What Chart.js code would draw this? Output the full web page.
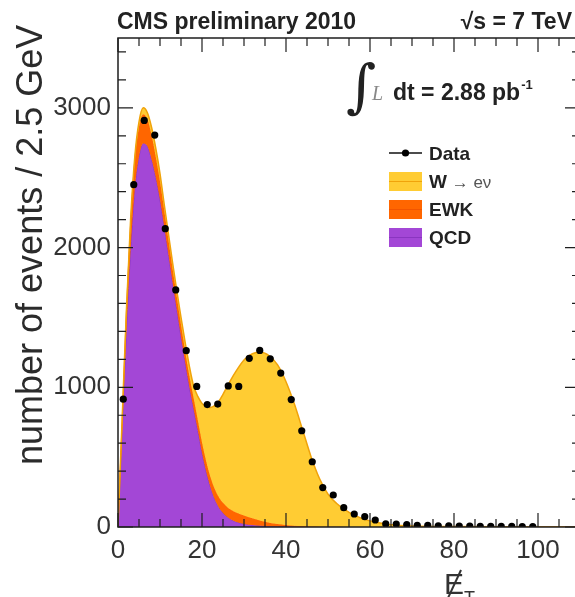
<!DOCTYPE html>
<html>
<head>
<meta charset="utf-8">
<script src="https://cdn.jsdelivr.net/npm/chart.js@4.4.0/dist/chart.umd.min.js"></script>
<style>
  html, body { margin: 0; padding: 0; overflow: hidden; background: #fff; }
  #plot { display: block; }
</style>
</head>
<body>
<canvas id="plot" width="600" height="597"></canvas>
<script>
// measured data: bin centres (GeV) and events per 2.5 GeV
const binCentres = [1.25, 3.75, 6.25, 8.75, 11.25, 13.75, 16.25, 18.75, 21.25, 23.75,
    26.25, 28.75, 31.25, 33.75, 36.25, 38.75, 41.25, 43.75, 46.25, 48.75,
    51.25, 53.75, 56.25, 58.75, 61.25, 63.75, 66.25, 68.75, 71.25, 73.75,
    76.25, 78.75, 81.25, 83.75, 86.25, 88.75, 91.25, 93.75, 96.25, 98.75];
const dataCounts = [915, 2450, 2910, 2805, 2135, 1697, 1262, 1006, 876, 880,
    1010, 1006, 1207, 1264, 1204, 1102, 912, 689, 467, 282,
    229, 138, 93, 74, 50, 22, 21, 18, 12, 11,
    9, 8, 7, 6, 5, 5, 4, 4, 3, 3];

// MC templates read along MET
const curveMet = [0, 1, 2, 3, 4, 5, 6, 7, 8, 9, 10, 11, 12, 13, 14, 15, 16, 17, 18, 19,
    20, 21, 22, 23, 24, 25, 26, 27, 28, 30, 32, 34, 36, 38, 40, 42, 44, 46, 48, 50,
    52, 54, 56, 58, 60, 62, 65, 70, 80, 90, 100, 110];
const qcdCurve = [0, 700, 1400, 1980, 2420, 2650, 2745, 2725, 2630, 2500, 2340, 2150, 1950, 1750, 1555, 1360, 1175, 1000, 845, 690,
    530, 395, 285, 200, 140, 100, 72, 52, 38, 22, 14, 9, 6, 4, 3, 2, 1.5, 1, 0.5, 0.3,
    0.2, 0.1, 0, 0, 0, 0, 0, 0, 0, 0, 0, 0];
const ewkCurve = [0, 70, 140, 190, 210, 215, 210, 195, 175, 150, 135, 120, 110, 100, 95, 90, 85, 82, 80, 78,
    77, 76, 75, 75, 74, 73, 72, 70, 67, 60, 48, 36, 25, 17, 11, 7, 5, 3, 2, 1,
    1, 0.5, 0, 0, 0, 0, 0, 0, 0, 0, 0, 0];
const wenuCurve = [0, 10, 10, 30, 20, 35, 45, 45, 55, 60, 55, 40, 40, 40, 40, 50, 60, 68, 85, 167,
    278, 391, 496, 593, 686, 777, 861, 938, 1005, 1113, 1178, 1205, 1194, 1139, 1026, 871, 684, 496, 343, 234,
    169, 124, 88, 62, 44, 30, 17, 8, 3, 1, 0.5, 0];

const xTickValues = [0, 20, 40, 60, 80, 100];
const yTickValues = [0, 1000, 2000, 3000];

const purple = '#a347d6';
const orange = '#ff6600';
const yellow = '#ffcc33';
const sans = '"Liberation Sans", Arial, Helvetica, sans-serif';

// stack the templates
const topQcd = qcdCurve.slice();
const topEwk = qcdCurve.map((v, i) => v + ewkCurve[i]);
const topW = topEwk.map((v, i) => v + wenuCurve[i]);
const toPts = ys => curveMet.map((x, i) => ({ x: x, y: ys[i] }));

function put(ctx, s, x, y, font, color, align) {
    ctx.font = font;
    ctx.fillStyle = color;
    ctx.textAlign = align || 'left';
    ctx.textBaseline = 'alphabetic';
    ctx.fillText(s, x, y);
    return ctx.measureText(s).width;
}

const decorations = {
    id: 'decorations',
    afterDraw(chart) {
        const { ctx, chartArea: a, scales: { x, y } } = chart;
        ctx.save();
        ctx.strokeStyle = '#1e1e1e';
        ctx.lineWidth = 1.5;
        ctx.strokeRect(a.left, a.top, a.right - a.left, a.bottom - a.top);

        ctx.beginPath();
        for (let v = 0; v <= x.max; v += 5) {
            const px = x.getPixelForValue(v);
            const len = v % 20 === 0 ? 14 : 8;
            ctx.moveTo(px, a.bottom); ctx.lineTo(px, a.bottom - len);
            ctx.moveTo(px, a.top); ctx.lineTo(px, a.top + len);
        }
        for (let v = 0; v <= y.max; v += 200) {
            const py = y.getPixelForValue(v);
            const len = v % 1000 === 0 ? 15 : 8;
            ctx.moveTo(a.left, py); ctx.lineTo(a.left + len, py);
            ctx.moveTo(a.right, py); ctx.lineTo(a.right - len, py);
        }
        ctx.lineWidth = 1.2;
        ctx.stroke();

        // header
        put(ctx, 'CMS preliminary 2010', 117, 29, 'bold 23px ' + sans, '#222');
        put(ctx, '\u221As = 7 TeV', 572, 29, 'bold 23px ' + sans, '#222', 'right');

        // luminosity
        put(ctx, '\u222B', 346, 106, '58px "DejaVu Serif", serif', '#222');
        put(ctx, 'L', 372, 100, 'italic 20px "Liberation Serif", serif', '#888');
        const w1 = put(ctx, 'dt = 2.88 pb', 393, 100, 'bold 23px ' + sans, '#222');
        put(ctx, '-1', 393 + w1 + 1, 89, 'bold 13px ' + sans, '#222');

        // legend
        const lx = 389, lw = 33, tx = 429;
        ctx.strokeStyle = '#111';
        ctx.lineWidth = 1.5;
        ctx.beginPath(); ctx.moveTo(lx, 153); ctx.lineTo(lx + lw, 153); ctx.stroke();
        ctx.fillStyle = '#000';
        ctx.beginPath(); ctx.arc(lx + lw / 2, 153, 3.6, 0, Math.PI * 2); ctx.fill();
        put(ctx, 'Data', tx, 160, 'bold 19px ' + sans, '#222');

        const boxes = [[yellow, '#f0a30a', 172], [orange, '#f25500', 200], [purple, '#8a35c0', 228]];
        boxes.forEach(b => {
            ctx.fillStyle = b[0];
            ctx.fillRect(lx, b[2], lw, 19);
            ctx.strokeStyle = b[1];
            ctx.lineWidth = 1;
            ctx.beginPath(); ctx.moveTo(lx, b[2] + 9.5); ctx.lineTo(lx + lw, b[2] + 9.5); ctx.stroke();
        });
        const ww = put(ctx, 'W', tx, 188, 'bold 19px ' + sans, '#222');
        put(ctx, ' \u2192 e\u03BD', tx + ww, 188, '17px ' + sans, '#555');
        put(ctx, 'EWK', tx, 216, 'bold 19px ' + sans, '#222');
        put(ctx, 'QCD', tx, 244, 'bold 19px ' + sans, '#222');

        // axis titles
        ctx.save();
        ctx.translate(42, 465);
        ctx.rotate(-Math.PI / 2);
        put(ctx, 'number of events / 2.5 GeV', 0, 0, '36px ' + sans, '#2b2b2b');
        ctx.restore();

        const ew = put(ctx, 'E', 444, 594, '30px ' + sans, '#333');
        ctx.strokeStyle = '#333';
        ctx.lineWidth = 2;
        ctx.beginPath(); ctx.moveTo(444 + ew * 0.85, 570); ctx.lineTo(444 + ew * 0.2, 598); ctx.stroke();
        put(ctx, 'T', 444 + ew, 604, '18px ' + sans, '#333');
        ctx.restore();
    }
};

const tickFont = { family: sans, size: 26 };

// eslint-disable-next-line
const chart = new Chart(document.getElementById('plot'), {
    type: 'line',
    data: {
        datasets: [
            {
                label: 'Data',
                data: binCentres.map((x, i) => ({ x: x, y: dataCounts[i] })),
                showLine: false,
                pointRadius: 3.6,
                pointBackgroundColor: '#000',
                pointBorderWidth: 0,
            },
            {
                label: 'W \u2192 e\u03BD',
                data: toPts(topW),
                fill: '+1',
                backgroundColor: yellow,
                borderColor: '#f0a30a',
                borderWidth: 1.5,
                pointRadius: 0,
                cubicInterpolationMode: 'monotone',
            },
            {
                label: 'EWK',
                data: toPts(topEwk),
                fill: '+1',
                backgroundColor: orange,
                borderColor: orange,
                borderWidth: 1,
                pointRadius: 0,
                cubicInterpolationMode: 'monotone',
            },
            {
                label: 'QCD',
                data: toPts(topQcd),
                fill: 'origin',
                backgroundColor: purple,
                borderColor: '#8a35c0',
                borderWidth: 1,
                pointRadius: 0,
                cubicInterpolationMode: 'monotone',
            },
        ]
    },
    options: {
        responsive: false,
        animation: false,
        layout: { padding: { top: 38, right: 20, left: 0, bottom: 0 } },
        plugins: { legend: { display: false }, tooltip: { enabled: false } },
        scales: {
            x: {
                type: 'linear',
                min: 0,
                max: 110,
                grid: { display: false, drawTicks: false },
                border: { display: false },
                ticks: { maxRotation: 0, autoSkip: false, padding: 8, color: '#333', font: tickFont },
                afterBuildTicks: s => { s.ticks = xTickValues.map(v => ({ value: v })); },
                afterFit: s => { s.height = 70; },
            },
            y: {
                min: 0,
                max: 3500,
                grid: { display: false, drawTicks: false },
                border: { display: false },
                ticks: { padding: 7, color: '#333', font: tickFont, callback: v => String(v) },
                afterBuildTicks: s => { s.ticks = yTickValues.map(v => ({ value: v })); },
                afterFit: s => { s.width = 118; },
            }
        }
    },
    plugins: [decorations]
});
</script>
</body>
</html>
